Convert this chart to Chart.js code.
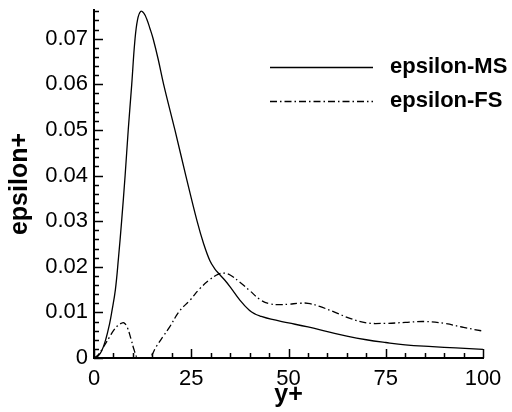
<!DOCTYPE html>
<html>
<head>
<meta charset="utf-8">
<title>epsilon+</title>
<script src="https://cdn.jsdelivr.net/npm/chart.js@4/dist/chart.umd.min.js"></script>
<style>
  html, body { margin: 0; padding: 0; background: #ffffff; }
  #grafico { display: block; }
</style>
</head>
<body>
<canvas id="grafico" width="512" height="412"></canvas>
<script>
const xMS = [0, 1, 2, 3, 4, 4.55, 5.5, 6.3, 7.1, 8, 8.8, 9.7, 10.5, 11.2, 12, 12.8, 13.6, 14.4, 15.2, 16.5, 17.9, 20.8, 23.6, 26.5, 28.2, 29.8, 31, 32.3, 33.7, 35, 37.5, 40, 41.5, 42.7, 45.5, 50, 55, 60, 65, 70, 75, 80, 87, 93, 100];
const yMS = [0, 0.0004, 0.0016, 0.0040, 0.0075, 0.010, 0.015, 0.022, 0.030, 0.040, 0.050, 0.060, 0.0695, 0.0742, 0.0760, 0.0756, 0.0742, 0.0722, 0.0700, 0.0655, 0.060, 0.050, 0.040, 0.030, 0.0250, 0.0213, 0.0196, 0.0183, 0.0170, 0.0156, 0.0127, 0.0104, 0.0096, 0.0092, 0.0085, 0.0077, 0.0068, 0.0058, 0.0048, 0.0040, 0.0034, 0.0029, 0.0025, 0.0022, 0.0019];

const xFS = [0, 1, 2, 3, 4, 5, 6, 7, 7.7, 8.5, 9.5, 10.3, 11.2, 12.7, 14.3, 16, 18, 19.5, 22, 24.7, 27.2, 29.8, 32, 33.5, 35, 37.5, 40, 42.7, 45, 47.8, 50, 53, 55, 58, 62, 65.8, 70, 75, 80, 85, 90, 95, 100];
const yFS = [0, 0.0006, 0.0018, 0.0032, 0.0046, 0.0060, 0.0070, 0.0076, 0.0077, 0.0068, 0.0042, 0.0018, 0, -0.0003, 0, 0.0025, 0.0050, 0.0069, 0.0103, 0.0127, 0.0152, 0.0172, 0.0184, 0.0186, 0.0182, 0.0166, 0.0148, 0.0128, 0.0119, 0.0117, 0.0118, 0.0120, 0.0120, 0.0113, 0.0100, 0.0087, 0.0077, 0.0076, 0.0078, 0.0080, 0.0076, 0.0067, 0.0059];

const serieNomes = ["epsilon-MS", "epsilon-FS"];
const xTicks = [0, 25, 50, 75, 100];
const yTicks = [0, 0.01, 0.02, 0.03, 0.04, 0.05, 0.06, 0.07];
const xMinorStep = 5;
const yMinorStep = 0.002;
const tituloX = "y+";
const tituloY = "epsilon+";

const fonte = "'Liberation Sans', Arial, Helvetica, sans-serif";
const tracoFS = [7, 3, 1.5, 3];

function montarPontos(xs, ys) {
  return xs.map((x, i) => ({ x: x, y: ys[i] }));
}

// ticks pequenos para dentro, como no grafico original
const ticksInternos = {
  id: "ticksInternos",
  afterDraw(chart) {
    const ctx = chart.ctx;
    const sx = chart.scales.x;
    const sy = chart.scales.y;
    const y0 = sy.getPixelForValue(sy.min);
    const x0 = sx.getPixelForValue(sx.min);

    ctx.save();
    ctx.strokeStyle = "#000";
    ctx.lineWidth = 1.5;
    ctx.beginPath();

    for (let v = sx.min; v <= sx.max + 1e-9; v += xMinorStep) {
      const px = Math.round(sx.getPixelForValue(v)) + 0.5;
      const major = xTicks.some(t => Math.abs(t - v) < 1e-6);
      ctx.moveTo(px, y0);
      ctx.lineTo(px, y0 - (major ? 9 : 5));
    }

    for (let v = sy.min; v <= sy.max + 1e-9; v += yMinorStep) {
      const py = Math.round(sy.getPixelForValue(v)) + 0.5;
      const major = yTicks.some(t => Math.abs(t - v) < 1e-6);
      ctx.moveTo(x0, py);
      ctx.lineTo(x0 + (major ? 9 : 5), py);
    }

    ctx.stroke();
    ctx.restore();
  }
};

// legenda desenhada a mao dentro da area do grafico
const legendaManual = {
  id: "legendaManual",
  afterDraw(chart) {
    const ctx = chart.ctx;
    const linhas = [67, 101];

    ctx.save();
    chart.data.datasets.forEach((ds, i) => {
      ctx.strokeStyle = "#000";
      ctx.lineWidth = 1.3;
      ctx.setLineDash(ds.borderDash || []);
      ctx.beginPath();
      ctx.moveTo(270, linhas[i] + 0.5);
      ctx.lineTo(373, linhas[i] + 0.5);
      ctx.stroke();

      ctx.setLineDash([]);
      ctx.fillStyle = "#000";
      ctx.font = "bold 22px " + fonte;
      ctx.textAlign = "left";
      ctx.textBaseline = "middle";
      ctx.fillText(serieNomes[i], 390, linhas[i]);
    });
    ctx.restore();
  }
};

const ctx = document.getElementById("grafico").getContext("2d");

new Chart(ctx, {
  type: "line",
  data: {
    datasets: [
      {
        label: serieNomes[0],
        data: montarPontos(xMS, yMS),
        borderColor: "#000",
        borderWidth: 1.3,
        pointRadius: 0,
        tension: 0.4,
        fill: false
      },
      {
        label: serieNomes[1],
        data: montarPontos(xFS, yFS),
        borderColor: "#000",
        borderWidth: 1.3,
        borderDash: tracoFS,
        pointRadius: 0,
        tension: 0.4,
        fill: false
      }
    ]
  },
  options: {
    responsive: false,
    animation: false,
    layout: {
      padding: { top: 10, right: 29, left: 0, bottom: 0 }
    },
    plugins: {
      legend: { display: false },
      tooltip: { enabled: false }
    },
    scales: {
      x: {
        type: "linear",
        min: 0,
        max: 100,
        afterFit: scale => {
          scale.height = 54;
          scale.paddingLeft = 0;
          scale.paddingRight = 0;
        },
        afterBuildTicks: scale => {
          scale.ticks = xTicks.map(v => ({ value: v }));
        },
        grid: { display: false, drawTicks: false },
        border: { display: true, color: "#000", width: 2 },
        ticks: {
          color: "#000",
          padding: 8,
          maxRotation: 0,
          font: { family: fonte, size: 22 }
        },
        title: {
          display: true,
          text: tituloX,
          color: "#000",
          padding: { top: 0, bottom: 2 },
          font: { family: fonte, size: 25, weight: "bold" }
        }
      },
      y: {
        type: "linear",
        min: 0,
        max: 0.0763,
        afterFit: scale => {
          scale.width = 94;
          scale.paddingTop = 0;
          scale.paddingBottom = 0;
        },
        afterBuildTicks: scale => {
          scale.ticks = yTicks.map(v => ({ value: v }));
        },
        grid: { display: false, drawTicks: false },
        border: { display: true, color: "#000", width: 2 },
        ticks: {
          color: "#000",
          padding: 6,
          font: { family: fonte, size: 22 },
          callback: v => (v === 0 ? "0" : Number(v).toFixed(2))
        },
        title: {
          display: true,
          text: tituloY,
          color: "#000",
          padding: { top: 5, bottom: 0 },
          font: { family: fonte, size: 25, weight: "bold" }
        }
      }
    }
  },
  plugins: [ticksInternos, legendaManual]
});
</script>
</body>
</html>
